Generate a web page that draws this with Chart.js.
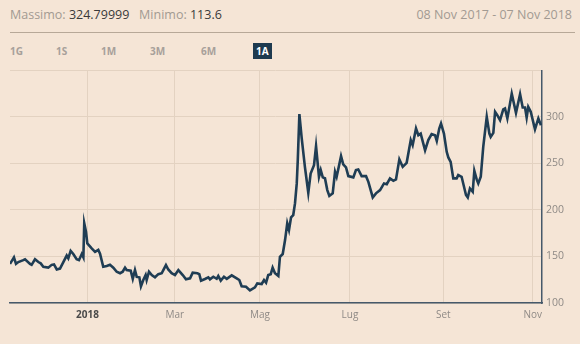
<!DOCTYPE html>
<html>
<head>
<meta charset="utf-8">
<script src="https://cdn.jsdelivr.net/npm/chart.js@4.4.1/dist/chart.umd.min.js"></script>
<style>
  html,body{margin:0;padding:0;background:#f5e5d6;width:580px;height:344px;overflow:hidden;font-family:"Open Sans",Lato,sans-serif;}
  #hdr{position:absolute;left:10px;top:6px;font-size:12.5px;color:#a29a92;}
  #hdr b{font-weight:400;color:#3a3a3a;}
  #rng{position:absolute;right:8px;top:6px;font-size:12.5px;color:#a29a92;}
  #rule{position:absolute;left:10px;top:32px;width:565px;height:1px;background:#b7a898;}
  .btn{position:absolute;top:43px;font-size:10px;font-weight:700;color:#a7a09a;line-height:16px;}
  .btn.on{background:#1e3a4f;color:#fff;padding:0 3px;}
  #wrap{position:absolute;left:0;top:60px;width:580px;height:284px;}
</style>
</head>
<body>
<div id="hdr">Massimo: <b>324.79999</b>&nbsp;&nbsp; Minimo: <b>113.6</b></div>
<div id="rng">08 Nov 2017 - 07 Nov 2018</div>
<div id="rule"></div>
<div class="btn" style="left:10px">1G</div>
<div class="btn" style="left:56px">1S</div>
<div class="btn" style="left:101px">1M</div>
<div class="btn" style="left:150px">3M</div>
<div class="btn" style="left:201px">6M</div>
<div class="btn on" style="left:253px">1A</div>
<div id="wrap"><canvas id="c" width="580" height="284"></canvas></div>
<script>
// Days since 08 Nov 2017
const days = [0,2.7,4.1,5.7,9.1,10.3,13.7,14.8,17.1,19.4,21,22.8,26.2,28.5,30.1,32,34.2,36.5,38.8,39.9,41.5,43.3,45.6,47.2,49.1,50.2,50.8,52,52.9,55.9,58.2,60.4,61.6,63.8,66.2,68.4,70.7,73,75.3,77.1,78.7,79.8,82.6,84,85.5,86.7,88.5,89.6,91.2,92.8,93.5,95.1,97,99.2,101.5,103.8,104.9,106.7,108.3,110.6,112.9,115.2,118.2,120.4,123.2,125,128.2,129.5,130.7,133.4,135.7,136.8,139.1,141.4,142.5,144.2,146.4,148.3,151.7,155.1,156.9,158.5,161.5,164.2,167.6,169.2,172.2,173.8,175.2,176.7,178.4,179.7,181.3,183.6,184.7,186.6,188.2,189.7,190.9,192.3,193.8,195,196.2,196.9,198,199.6,201.8,204.1,205.7,208,209.4,211.4,212.6,214,215.5,217.1,218.5,220.8,222.4,223.5,226.5,228,229.9,231.5,234.9,236.7,238.3,240.6,243.6,245.2,248.2,250.4,253.2,255.9,257.8,260,262.3,264.1,266.4,268.7,271.4,274.2,275.5,277.8,279.4,281,284,286.2,288.5,290.8,292,293.7,294.9,296.9,298.8,299.9,301.5,303.3,305.6,306.7,309,312,313.2,314.7,316.6,317.7,319.3,320.4,322.1,323.8,326.2,328,328.9,330.7,331.9,333.4,335.3,337.5,338.7,340.3,343.3,346.2,349,350.8,352.4,353.5,354.6,356.3,359.2,361.5,363.3];
const prices = [142,149,142,144,146,147,142,141,147,144,142.6,139,138,141,141.5,136,137,144,151,148,156,152.6,147,146,152.6,149,185.6,176.5,164,158.7,155,157,153,139,139.7,141,138,133.6,132,133.6,138,135.4,134.7,126,135.4,128,127.6,118,124.7,130,124.7,133.6,130,127.6,131,132,135.4,140.8,136,132,130,135.4,130,125.4,126.5,132.5,132,131,124,125.8,127.6,125.4,128.2,126,129,124,128.2,126,129.7,126.5,124.7,118,117.5,113.6,116.8,121,120.4,124.7,121.8,130,131,138,132,129,149.7,152.6,167.6,185.6,178.4,192,194.5,207,228.5,253.5,303,276.8,246,218.4,239,248,268.5,235.6,242.8,235,234,221.3,215,217.8,241,235.6,257.8,249,245.7,236.3,235,242.8,243.5,236.3,236.3,230.2,213.4,217.8,221.3,228.5,227.7,233.9,231.3,232.8,254.3,246.3,250.6,275,269.6,287.5,280.3,282,264,275,281.4,280.3,274.2,287.5,292.9,282,262.4,256.4,251.7,233.9,233.9,237.4,235.6,216,213.4,223,219.5,242,232.8,228.5,235.6,267.8,300,282,278.4,282.8,305.4,301.8,296.5,307.9,309,298.3,324.8,304.3,324.4,310,310,299.3,310.7,305.4,286.5,298.3,291];
const tickDays = [53,112.7,171,232.6,296.5,357.6];
const tickLabels = ['2018','Mar','Mag','Lug','Set','Nov'];
const yTicks = [100,150,200,250,300];

const points = days.map((d,i)=>({x:d,y:prices[i]}));
const FONT = '"Open Sans", Lato, sans-serif';

new Chart(document.getElementById('c'), {
  type:'line',
  data:{datasets:[{data:points,borderColor:'#1f3d54',borderWidth:2.6,pointRadius:0,tension:0,fill:false}]},
  options:{
    responsive:false,animation:false,
    layout:{padding:{left:10,top:10,right:0,bottom:0}},
    plugins:{legend:{display:false},tooltip:{enabled:false}},
    scales:{
      x:{type:'linear',min:0,max:364,
        afterBuildTicks:(s)=>{s.ticks=tickDays.map(v=>({value:v}));},
        afterFit:(s)=>{s.height=41;},
        ticks:{autoSkip:false,maxRotation:0,padding:6,
          callback:(v,i)=>tickLabels[i],
          color:(c)=>c.index===0?'#4a4a4a':'#8f8a86',
          font:(c)=>({family:FONT,size:10,weight:c.index===0?'bold':'normal'})},
        grid:{color:'#e3d2c1',lineWidth:1,drawTicks:false},
        border:{display:true,color:'#46596a',width:1.5}
      },
      y:{position:'right',min:100,max:350,
        afterBuildTicks:(s)=>{s.ticks=yTicks.concat([350]).map(v=>({value:v}));},
        afterFit:(s)=>{s.width=38;},
        ticks:{padding:4,color:'#8f8a86',font:{family:FONT,size:10.5},
          callback:(v)=>yTicks.includes(v)?String(v):''},
        grid:{color:'#e3d2c1',lineWidth:1,drawTicks:false},
        border:{display:true,color:'#46596a',width:1.5}
      }
    }
  }
});
</script>
</body>
</html>
